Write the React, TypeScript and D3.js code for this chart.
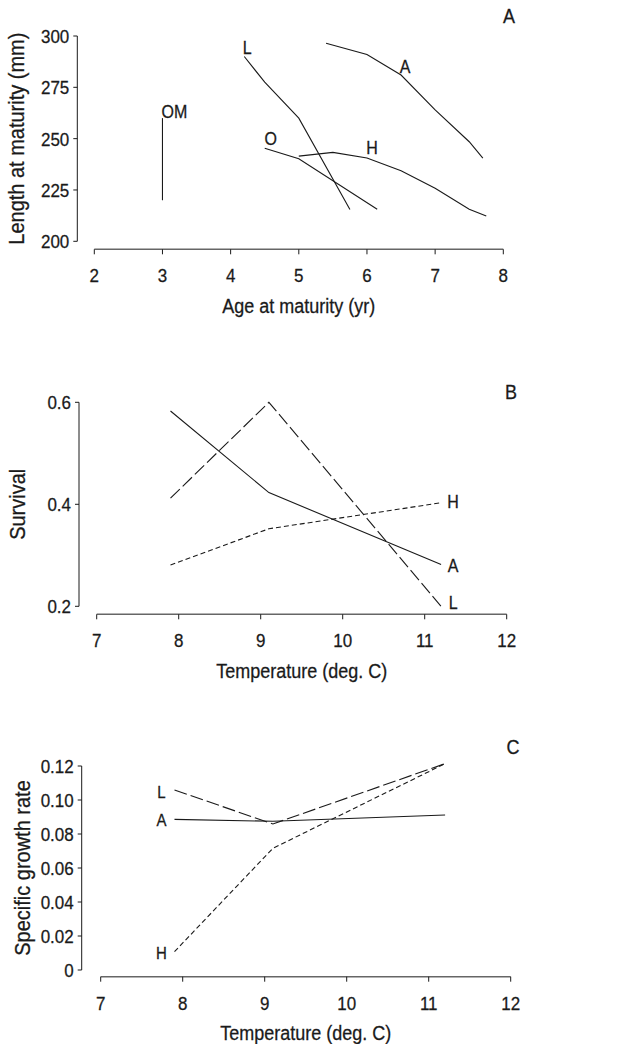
import React from "react";
import * as d3 from "d3";

// ---------- Panel A data ----------
const omAge = [3, 3];
const omLength = [220, 260];
const lAge = [4.2, 4.5, 5.0, 5.75];
const lLength = [290, 277.5, 260, 215.5];
const aAge = [5.4, 6.0, 6.5, 7.0, 7.5, 7.7];
const aLength = [296.5, 291, 281, 264, 248.5, 240.5];
const oAge = [4.5, 5.0, 6.15];
const oLength = [245.3, 240.2, 215.6];
const hAge = [5.0, 5.5, 6.0, 6.5, 7.0, 7.5, 7.75];
const hLength = [241.5, 243.3, 240.6, 234.4, 225.8, 215.6, 212.3];
const ageTicks = [2, 3, 4, 5, 6, 7, 8];
const lengthTicks = [200, 225, 250, 275, 300];

// ---------- Panel B data ----------
const tempB = [7.9, 9.1, 11.2];
const survA = [0.583, 0.423, 0.282];
const survL = [0.412, 0.6, 0.2];
const survH = [0.281, 0.352, 0.403];
const tempTicks = [7, 8, 9, 10, 11, 12];
const survTicks = [0.2, 0.4, 0.6];
const survTickLabels = ["0.2", "0.4", "0.6"];

// ---------- Panel C data ----------
const tempC = [7.9, 9.1, 11.2];
const growthA = [0.0886, 0.0875, 0.0912];
const growthL = [0.1059, 0.0859, 0.1214];
const growthH = [0.0108, 0.0716, 0.1214];
const growthTicks = [0, 0.02, 0.04, 0.06, 0.08, 0.1, 0.12];
const growthTickLabels = ["0", "0.02", "0.04", "0.06", "0.08", "0.10", "0.12"];

const FONT = "'Liberation Sans', Arial, Helvetica, sans-serif";
const INK = "#1a1a1a";
const LONG_DASH = "13 4";
const SHORT_DASH = "5 3";
const STRETCH = 1.12;

type Series = {
  xs: number[];
  ys: number[];
  dash?: string;
  label: string;
  at: number;
  dx: number;
  dy: number;
  anchor: "start" | "middle" | "end";
};

// Text drawn slightly taller than wide, as in the scanned figure. (x, y) = visual centre.
function T(props: {
  x: number;
  y: number;
  size: number;
  anchor?: "start" | "middle" | "end";
  rotate?: number;
  children: React.ReactNode;
}) {
  const { x, y, size, anchor = "middle", rotate = 0 } = props;
  const tf = rotate
    ? `translate(${x},${y}) rotate(${rotate}) scale(1,${STRETCH})`
    : `translate(${x},${y}) scale(1,${STRETCH})`;
  return (
    <text
      transform={tf}
      textAnchor={anchor}
      dy="0.36em"
      fontSize={size}
      fill={INK}
      stroke={INK}
      strokeWidth={0.25}
    >
      {props.children}
    </text>
  );
}

type PanelProps = {
  xDomain: [number, number];
  xRange: [number, number];
  yDomain: [number, number];
  yRange: [number, number];
  xAxisY: number;
  yAxisX: number;
  xTicks: number[];
  yTicks: number[];
  yTickLabels: string[];
  xTitle: string;
  yTitle: string;
  yTitleX: number;
  letter: string;
  letterX: number;
  letterY: number;
  series: Series[];
  labelSize: number;
};

function Panel(p: PanelProps) {
  const x = d3.scaleLinear().domain(p.xDomain).range(p.xRange);
  const y = d3.scaleLinear().domain(p.yDomain).range(p.yRange);
  const line = d3
    .line<[number, number]>()
    .x((d) => x(d[0]))
    .y((d) => y(d[1]));
  const xMid = (p.xRange[0] + p.xRange[1]) / 2;
  const yMid = (p.yRange[0] + p.yRange[1]) / 2;
  return (
    <g fontFamily={FONT}>
      {/* y axis */}
      <line x1={p.yAxisX} x2={p.yAxisX} y1={p.yRange[1]} y2={p.yRange[0]} stroke={INK} strokeWidth={1} />
      {p.yTicks.map((t, i) => (
        <g key={"yt" + i}>
          <line x1={p.yAxisX - 4} x2={p.yAxisX} y1={y(t)} y2={y(t)} stroke={INK} strokeWidth={1} />
          <T x={p.yAxisX - 8} y={y(t)} size={17} anchor="end">
            {p.yTickLabels[i]}
          </T>
        </g>
      ))}
      {/* x axis */}
      <line x1={p.xRange[0]} x2={p.xRange[1]} y1={p.xAxisY} y2={p.xAxisY} stroke="#666" strokeWidth={1.5} />
      {p.xTicks.map((t, i) => (
        <g key={"xt" + i}>
          <line x1={x(t)} x2={x(t)} y1={p.xAxisY} y2={p.xAxisY + 5} stroke={INK} strokeWidth={1} />
          <T x={x(t)} y={p.xAxisY + 26} size={17}>
            {t}
          </T>
        </g>
      ))}
      <T x={xMid} y={p.xAxisY + 56} size={18}>
        {p.xTitle}
      </T>
      <T x={p.yTitleX} y={yMid} size={20} rotate={-90}>
        {p.yTitle}
      </T>
      <T x={p.letterX} y={p.letterY} size={18}>
        {p.letter}
      </T>
      {p.series.map((s, i) => {
        const pts: [number, number][] = s.xs.map((v, j) => [v, s.ys[j]]);
        const a = pts[s.at];
        return (
          <g key={"s" + i}>
            <path d={line(pts) || ""} fill="none" stroke={INK} strokeWidth={1.1} strokeDasharray={s.dash} />
            <T x={x(a[0]) + s.dx} y={y(a[1]) + s.dy} size={p.labelSize} anchor={s.anchor}>
              {s.label}
            </T>
          </g>
        );
      })}
    </g>
  );
}

export default function App() {
  return (
    <svg
      width={621}
      height={1044}
      style={{ position: "absolute", left: 0, top: 0, display: "block", background: "#fff" }}
    >
      <rect width={621} height={1044} fill="#fff" />
      <Panel
        xDomain={[2, 8]}
        xRange={[94.3, 503.3]}
        yDomain={[200, 300]}
        yRange={[241.3, 36]}
        xAxisY={249.3}
        yAxisX={77.3}
        xTicks={ageTicks}
        yTicks={lengthTicks}
        yTickLabels={lengthTicks.map(String)}
        xTitle="Age at maturity (yr)"
        yTitle="Length at maturity (mm)"
        yTitleX={16}
        letter="A"
        letterX={509}
        letterY={16}
        labelSize={16}
        series={[
          { xs: omAge, ys: omLength, label: "OM", at: 1, dx: -1, dy: -7, anchor: "start" },
          { xs: lAge, ys: lLength, label: "L", at: 0, dx: 3, dy: -9, anchor: "middle" },
          { xs: aAge, ys: aLength, label: "A", at: 2, dx: 4, dy: -8, anchor: "middle" },
          { xs: oAge, ys: oLength, label: "O", at: 0, dx: 6, dy: -10, anchor: "middle" },
          { xs: hAge, ys: hLength, label: "H", at: 2, dx: 5, dy: -10, anchor: "middle" },
        ]}
      />
      <Panel
        xDomain={[7, 12]}
        xRange={[96.7, 506.7]}
        yDomain={[0.2, 0.6]}
        yRange={[606.3, 402.3]}
        xAxisY={614.3}
        yAxisX={79}
        xTicks={tempTicks}
        yTicks={survTicks}
        yTickLabels={survTickLabels}
        xTitle="Temperature (deg. C)"
        yTitle="Survival"
        yTitleX={17}
        letter="B"
        letterX={511}
        letterY={392}
        labelSize={16}
        series={[
          { xs: tempB, ys: survA, label: "A", at: 2, dx: 12, dy: 1, anchor: "middle" },
          { xs: tempB, ys: survL, label: "L", at: 2, dx: 12, dy: -4, anchor: "middle", dash: LONG_DASH },
          { xs: tempB, ys: survH, label: "H", at: 2, dx: 12, dy: -1, anchor: "middle", dash: SHORT_DASH },
        ]}
      />
      <Panel
        xDomain={[7, 12]}
        xRange={[100.7, 510.7]}
        yDomain={[0, 0.12]}
        yRange={[970, 766]}
        xAxisY={976.7}
        yAxisX={81.7}
        xTicks={tempTicks}
        yTicks={growthTicks}
        yTickLabels={growthTickLabels}
        xTitle="Temperature (deg. C)"
        yTitle="Specific growth rate"
        yTitleX={22}
        letter="C"
        letterX={513}
        letterY={747}
        labelSize={15}
        series={[
          { xs: tempC, ys: growthA, label: "A", at: 0, dx: -13, dy: 1, anchor: "middle" },
          { xs: tempC, ys: growthL, label: "L", at: 0, dx: -13, dy: 2, anchor: "middle", dash: LONG_DASH },
          { xs: tempC, ys: growthH, label: "H", at: 0, dx: -13, dy: 1, anchor: "middle", dash: SHORT_DASH },
        ]}
      />
    </svg>
  );
}
